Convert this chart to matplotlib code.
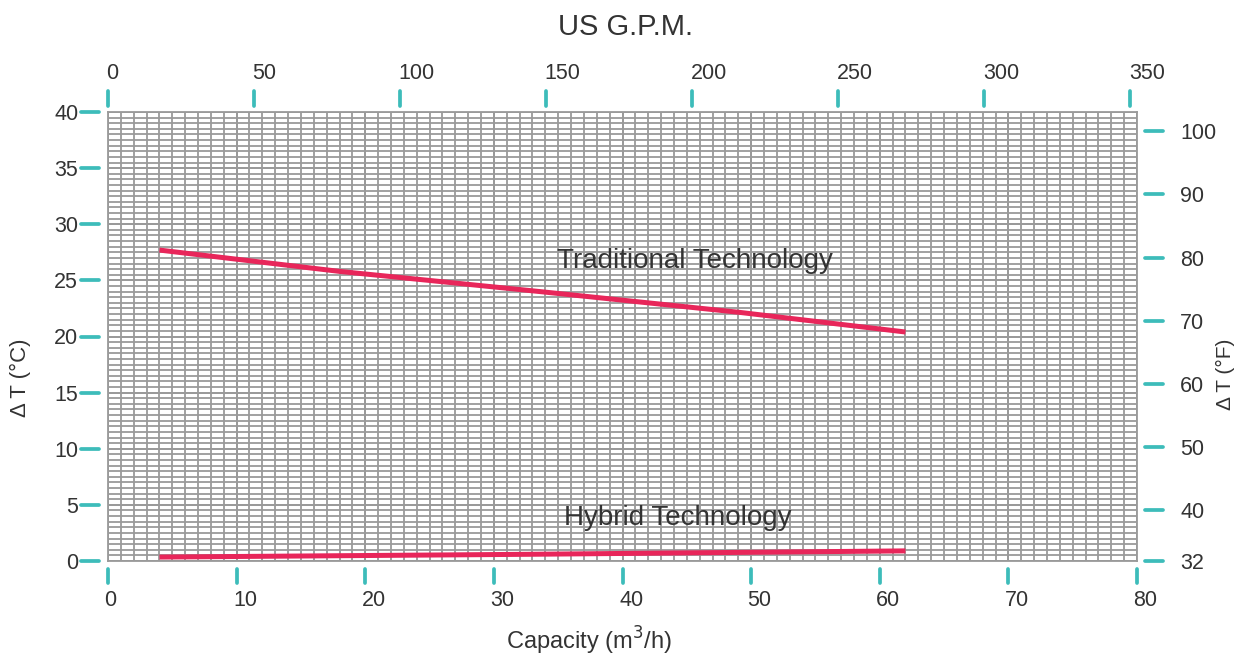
import numpy as np
import matplotlib
matplotlib.use("Agg")
import matplotlib.pyplot as plt
import matplotlib.transforms as mtransforms
from matplotlib.ticker import MultipleLocator

plt.rcParams["font.family"] = ["Liberation Sans", "DejaVu Sans"]

# ── Data ──────────────────────────────────────────────────────────────────────
trad_flow = [4, 18, 33.6, 49.1, 62]          # m3/h
trad_dt   = [27.7, 25.8, 24.0, 22.15, 20.4]  # deg C
hyb_flow  = [4, 33, 62]
hyb_dt    = [0.35, 0.6, 0.9]

m3h_ticks = [0, 10, 20, 30, 40, 50, 60, 70, 80]
gpm_ticks = [0, 50, 100, 150, 200, 250, 300, 350]
degc_ticks = [0, 5, 10, 15, 20, 25, 30, 35, 40]
degf_ticks = [32, 40, 50, 60, 70, 80, 90, 100]

GPM_PER_M3H = 4.40287
F_PER_C = 1.776     # scale of the °F axis as printed on the chart
TEAL  = "#3dbcba"
RED   = "#e8265a"
GRID  = "#9a9a9a"
TXT   = "#333333"

W, H = 1241, 655
fig = plt.figure(figsize=(W / 100, H / 100), dpi=100)
ax = fig.add_axes([108 / W, 1 - 561 / H, (1137 - 108) / W, (561 - 112) / H])
ax.set_xlim(0, 80)
ax.set_ylim(0, 40)

# fine grid: 1 m3/h by 0.5 degC
ax.xaxis.set_minor_locator(MultipleLocator(1))
ax.yaxis.set_minor_locator(MultipleLocator(0.5))
ax.xaxis.remove_overlapping_locs = False
ax.yaxis.remove_overlapping_locs = False
ax.grid(True, which="both", color=GRID, linewidth=1.3)
for s in ax.spines.values():
    s.set_color(GRID)
    s.set_linewidth(1.3)

ax.plot(trad_flow, trad_dt, color=RED, linewidth=3.6, solid_capstyle="butt", zorder=3)
ax.plot(hyb_flow, hyb_dt, color=RED, linewidth=3.6, solid_capstyle="butt", zorder=3)

ax.text(45.6, 26.75, "Traditional Technology", fontsize=20, color=TXT, ha="center", va="center", zorder=4)
ax.text(44.3, 3.85, "Hybrid Technology", fontsize=20, color=TXT, ha="center", va="center", zorder=4)

# ── Axes ticks (labels from the axes, marks drawn detached) ───────────────────
LS = 15.5
nudge = mtransforms.ScaledTranslation(-0.035, 0, fig.dpi_scale_trans)

ax.set_xticks(m3h_ticks)
ax.set_yticks(degc_ticks)
ax.tick_params(which="both", length=0)
ax.tick_params(axis="x", pad=21, labelsize=LS, labelcolor=TXT)
ax.tick_params(axis="y", pad=21.5, labelsize=LS, labelcolor=TXT)
for lab in ax.get_xticklabels():
    lab.set_horizontalalignment("left")
    lab.set_transform(lab.get_transform() + nudge)

top = ax.secondary_xaxis("top", functions=(lambda x: x * GPM_PER_M3H, lambda g: g / GPM_PER_M3H))
top.set_xticks(gpm_ticks)
top.tick_params(length=0, pad=20, labelsize=LS, labelcolor=TXT)
for lab in top.get_xticklabels():
    lab.set_horizontalalignment("left")
    lab.set_transform(lab.get_transform() + mtransforms.ScaledTranslation(-0.015, 0, fig.dpi_scale_trans))

right = ax.secondary_yaxis("right", functions=(lambda c: c * F_PER_C + 32, lambda f: (f - 32) / F_PER_C))
right.set_yticks(degf_ticks)
right.tick_params(length=0, pad=31, labelsize=LS, labelcolor=TXT)

for a in (top, right):
    for s in a.spines.values():
        s.set_visible(False)

# teal tick marks
aw, ah = 1029.0, 449.0
bx = mtransforms.blended_transform_factory(ax.transData, ax.transAxes)
by = mtransforms.blended_transform_factory(ax.transAxes, ax.transData)
tick_kw = dict(color=TEAL, linewidth=2.7, solid_capstyle="round", clip_on=False, zorder=5)
for v in m3h_ticks:
    ax.plot([v, v], [-8 / ah, -22 / ah], transform=bx, **tick_kw)
for g in gpm_ticks:
    v = g / GPM_PER_M3H
    ax.plot([v, v], [1 + 6 / ah, 1 + 21 / ah], transform=bx, **tick_kw)
for v in degc_ticks:
    ax.plot([-9 / aw, -27 / aw], [v, v], transform=by, **tick_kw)
for f in degf_ticks:
    v = (f - 32) / F_PER_C
    ax.plot([1 + 8 / aw, 1 + 26 / aw], [v, v], transform=by, **tick_kw)

# ── Axis titles ───────────────────────────────────────────────────────────────
fig.text(625 / W, 1 - 27 / H, "US G.P.M.", fontsize=21, color=TXT, ha="center", va="center")
fig.text(589 / W, 1 - 641 / H, "Capacity (m$^3$/h)", fontsize=17, color=TXT, ha="center", va="center")
fig.text(20 / W, 1 - 378 / H, "Δ T (°C)", fontsize=16, color=TXT, rotation=90, ha="center", va="center")
fig.text(1225 / W, 1 - 374 / H, "Δ T (°F)", fontsize=15, color=TXT, rotation=90, ha="center", va="center")

fig.savefig("out.png", dpi=100)
